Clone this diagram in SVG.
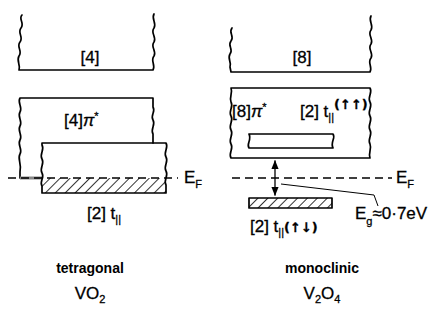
<svg xmlns="http://www.w3.org/2000/svg" width="428" height="322" viewBox="0 0 428 322">
<style>
.ln{fill:none;stroke:#000;stroke-width:1.7;stroke-linecap:round;stroke-linejoin:round}
.thin{fill:none;stroke:#000;stroke-width:1}
.dash{fill:none;stroke:#000;stroke-width:1.4;stroke-dasharray:8,5}
.t{font-family:"Liberation Sans","DejaVu Sans",sans-serif;fill:#000;stroke:#000;stroke-width:0.3}
.lb{font-size:17px}
.sm{font-size:14px;font-weight:bold;stroke-width:0}
.sub{font-size:11px}
.ar{font-family:"DejaVu Sans",sans-serif;font-size:13px;font-weight:bold}
</style>
<defs>
<pattern id="hatch" patternUnits="userSpaceOnUse" width="7" height="7" patternTransform="rotate(45)">
<line x1="0" y1="0" x2="0" y2="7" stroke="#000" stroke-width="1.6"/>
</pattern>
<marker id="ah" viewBox="0 0 10 10" refX="9" refY="5" markerWidth="7" markerHeight="7" orient="auto-start-reverse">
<path d="M0,1 L10,5 L0,9 Z" fill="#000"/>
</marker>
</defs>
<rect width="428" height="322" fill="#fff"/>

<g id="tetra-upper">
<path class="ln" d="M22,15 c-4,4 3,8 -1,13 c-4,5 3,9 -1,14 c-4,5 3,9 -1,14 c-3,5 2,9 0,14 L20,70 L153,70 c3,-5 -3,-9 1,-14 c3,-5 -4,-9 0,-14 c3,-5 -4,-9 0,-14 c3,-5 -3,-9 0,-14"/>
<text class="t lb" x="90" y="63" text-anchor="middle">[4]</text>
</g>

<g id="tetra-pi">
<path class="ln" d="M153,143 L153,134 c-3,-5 3,-9 0,-14 c-3,-5 3,-8 0,-13 L153,98 L20,98 c-3,5 3,9 0,14 c-3,5 3,9 0,14 c-3,5 3,9 0,14 c-3,5 3,9 0,14 c-3,5 2,9 0,18 L20,178"/>
<rect x="20" y="176.5" width="22" height="3" fill="#888"/>
<text class="t lb" x="64" y="126">[4]<tspan font-style="italic">π</tspan><tspan dy="-6" class="sub">*</tspan></text>
</g>

<g id="tetra-t">
<rect x="42" y="178" width="124" height="15" fill="url(#hatch)"/>
<path class="ln" d="M42,193 L42,186 c-3,-5 3,-8 0,-13 c-3,-5 3,-9 0,-14 c-3,-5 3,-9 0,-14 L42,143 L166,143 c3,5 -3,9 0,14 c3,5 -3,9 0,14 c3,5 -3,9 0,14 L166,193 Z"/>
<text class="t lb" x="87" y="219">[2] t<tspan class="sub" dy="4">||</tspan></text>
</g>

<g id="mono-upper">
<path class="ln" d="M232,28 c-4,5 3,8 -1,13 c-4,5 3,8 -1,13 c-3,5 2,8 0,13 L231,72 L370,72 c3,-5 -3,-9 1,-14 c3,-5 -4,-9 0,-14 c3,-5 -4,-9 0,-14 c3,-5 -3,-9 0,-14"/>
<text class="t lb" x="302" y="63" text-anchor="middle">[8]</text>
</g>

<g id="mono-pi">
<path class="ln" d="M231,88 L370,88 c3,5 -3,9 0,14 c3,5 -3,9 0,14 c3,5 -3,9 0,14 c3,5 -3,9 0,14 c2,5 -2,9 0,14 L231,158 c-3,-5 3,-9 0,-14 c-3,-5 3,-9 0,-14 c-3,-5 3,-9 0,-14 c-3,-5 3,-9 0,-14 c-2,-5 2,-9 0,-14 Z"/>
<text class="t lb" x="232" y="117">[8]<tspan font-style="italic">π</tspan><tspan dy="-6" class="sub">*</tspan></text>
<text class="t lb" x="300" y="117">[2] t<tspan class="sub" dy="4">||</tspan><tspan class="ar" dy="-12">(↑↑)</tspan></text>
<path class="ln" d="M249,134 L333,134 c3,4 -3,8 0,14 L249,148 c-3,-4 3,-8 0,-14 Z"/>
</g>

<g id="mono-t">
<rect x="249" y="198" width="83" height="10" fill="url(#hatch)"/>
<rect x="249" y="198" width="83" height="10" class="ln"/>
<text class="t lb" x="250" y="232">[2] t<tspan class="sub" dy="4">||</tspan><tspan class="ar" dy="-4">(↑↓)</tspan></text>
</g>

<g id="connectors">
<line class="dash" x1="8" y1="178" x2="178" y2="178"/>
<line class="dash" x1="232" y1="178" x2="392" y2="178"/>
<line class="ln" x1="275" y1="161" x2="275" y2="195" marker-start="url(#ah)" marker-end="url(#ah)" style="stroke-width:1.3"/>
<polyline class="thin" points="281,184 374,195 378,206"/>
</g>

<g id="labels">
<text class="t lb" x="184" y="183">E<tspan class="sub" dy="5">F</tspan></text>
<text class="t lb" x="396" y="183">E<tspan class="sub" dy="5">F</tspan></text>
<text class="t lb" x="355" y="219">E<tspan class="sub" dy="6">g</tspan><tspan dy="-6">≈0·7eV</tspan></text>
<text class="t sm" x="90" y="273" text-anchor="middle">tetragonal</text>
<text class="t lb" x="90" y="299" text-anchor="middle">VO<tspan class="sub" dy="4">2</tspan></text>
<text class="t sm" x="322" y="273" text-anchor="middle">monoclinic</text>
<text class="t lb" x="322" y="299" text-anchor="middle">V<tspan class="sub" dy="4">2</tspan><tspan dy="-4">O</tspan><tspan class="sub" dy="4">4</tspan></text>
</g>
</svg>
